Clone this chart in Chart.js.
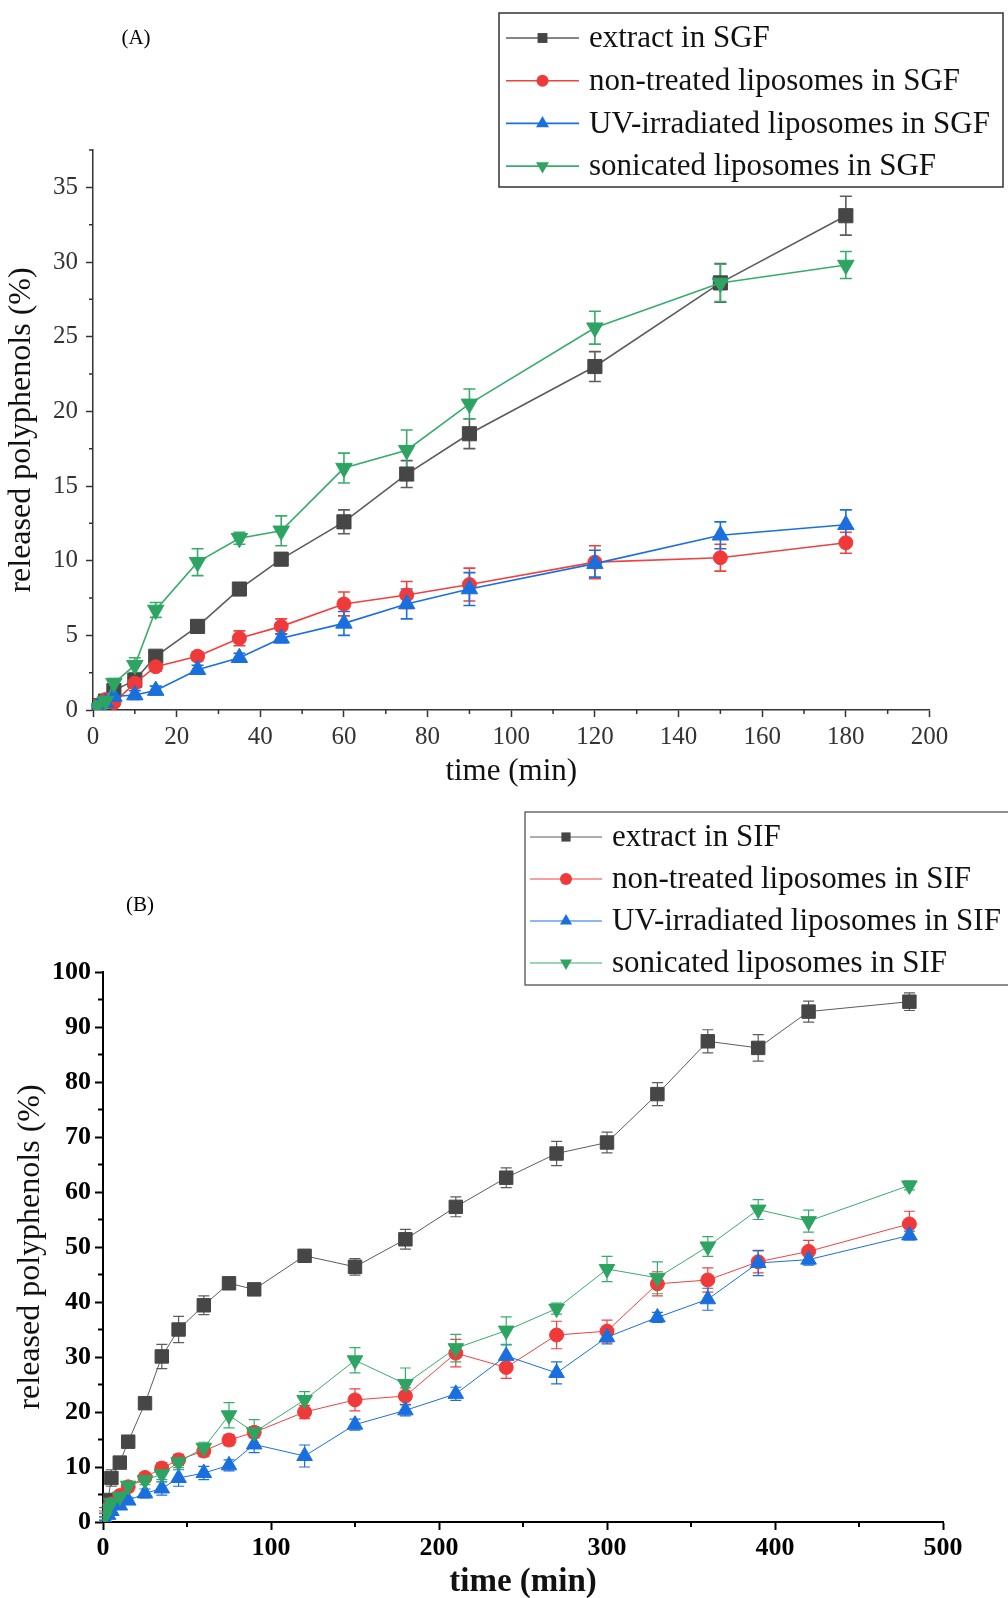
<!DOCTYPE html>
<html>
<head>
<meta charset="utf-8">
<title>released polyphenols</title>
<script src="https://cdn.jsdelivr.net/npm/chart.js@4/dist/chart.umd.min.js"></script>
<style>
  body { margin: 0; background: #fff; width: 1008px; height: 1598px; overflow: hidden; position: relative; }
  .panel { position: absolute; left: 0; width: 1008px; height: 800px; }
  #panelA { top: 0; }
  #panelB { top: 800px; }
  .tag { position: absolute; font-family: "Liberation Serif", serif; font-size: 21px; color: #000; transform: translate(-50%, -50%); }
</style>
</head>
<body>
<div class="panel" id="panelA"><canvas id="chartA" width="1008" height="800"></canvas></div>
<div class="panel" id="panelB"><canvas id="chartB" width="1008" height="800"></canvas></div>
<div class="tag" style="left:136px; top:37px;">(A)</div>
<div class="tag" style="left:140px; top:904px;">(B)</div>
<script>
// ======= 資料：SGF (A) =======
const timeSGF = [1, 3, 5, 10, 15, 25, 35, 45, 60, 75, 90, 120, 150, 180];
const extractSGF = [0.3, 0.6, 1.3, 2.0, 3.6, 5.6, 8.1, 10.1, 12.6, 15.8, 18.5, 23.0, 28.6, 33.1];
const extractSGFErr = [0.1, 0.2, 0.3, 0.3, 0.3, 0.3, 0.3, 0.4, 0.8, 0.9, 1.0, 1.0, 1.3, 1.3];
const nonTreatedSGF = [0.3, 0.7, 0.5, 1.8, 2.9, 3.6, 4.8, 5.6, 7.1, 7.7, 8.4, 9.9, 10.2, 11.2];
const nonTreatedSGFErr = [0.1, 0.2, 0.2, 0.3, 0.3, 0.3, 0.5, 0.5, 0.8, 0.9, 1.1, 1.1, 0.9, 0.7];
const uvSGF = [0.2, 0.5, 0.9, 1.0, 1.3, 2.7, 3.5, 4.8, 5.8, 7.1, 8.1, 9.8, 11.7, 12.4];
const uvSGFErr = [0.1, 0.2, 0.2, 0.3, 0.3, 0.3, 0.3, 0.3, 0.8, 1.0, 1.1, 0.9, 0.9, 1.0];
const sonicatedSGF = [0.3, 0.6, 1.8, 3.0, 6.7, 9.9, 11.5, 12.0, 16.2, 17.4, 20.5, 25.6, 28.6, 29.8];
const sonicatedSGFErr = [0.1, 0.2, 0.3, 0.5, 0.5, 0.9, 0.4, 1.0, 1.0, 1.35, 1.0, 1.1, 1.25, 0.9];

// ======= 資料：SIF (B) =======
const timeSIF = [1, 3, 5, 10, 15, 25, 35, 45, 60, 75, 90, 120, 150, 180, 210, 240, 270, 300, 330, 360, 390, 420, 480];
const extractSIF = [2.1, 4.0, 8.0, 10.8, 14.6, 21.6, 30.1, 35.0, 39.4, 43.4, 42.3, 48.4, 46.4, 51.4, 57.3, 62.6, 67.0, 69.0, 77.8, 87.4, 86.2, 92.8, 94.6];
const extractSIFErr = [0.5, 1.0, 1.5, 1.0, 1.0, 1.0, 2.2, 2.4, 1.7, 0.8, 0.5, 0.8, 1.5, 1.8, 1.8, 1.8, 2.2, 1.9, 2.1, 2.1, 2.4, 1.9, 1.6];
const nonTreatedSIF = [1.5, 2.5, 3.3, 4.8, 6.4, 8.1, 9.8, 11.3, 12.9, 14.9, 16.3, 20.0, 22.2, 22.9, 30.7, 28.1, 34.0, 34.7, 43.3, 44.0, 47.3, 49.2, 54.2];
const nonTreatedSIFErr = [0.5, 0.7, 0.8, 0.8, 0.8, 0.8, 1.0, 1.0, 1.0, 1.0, 1.0, 1.2, 2.0, 1.5, 2.5, 2.0, 2.5, 2.0, 2.2, 2.2, 2.0, 2.0, 2.3];
const uvSIF = [0.6, 1.3, 2.0, 3.0, 3.9, 5.2, 6.1, 8.0, 8.9, 10.3, 14.1, 12.0, 17.7, 20.3, 23.3, 30.2, 27.1, 33.6, 37.2, 40.5, 47.1, 47.7, 52.1];
const uvSIFErr = [0.3, 0.5, 0.6, 0.6, 0.6, 0.8, 1.2, 1.5, 1.2, 1.0, 1.5, 2.0, 1.0, 1.0, 1.2, 2.0, 2.0, 1.2, 0.9, 2.0, 2.3, 1.0, 0.8];
const sonicatedSIF = [1.0, 2.5, 3.5, 4.6, 6.6, 7.6, 8.7, 10.9, 13.5, 19.4, 16.3, 22.2, 29.4, 25.1, 31.6, 34.8, 38.8, 46.0, 44.4, 50.1, 56.8, 54.7, 61.2];
const sonicatedSIFErr = [0.5, 0.6, 0.7, 0.8, 0.8, 0.8, 1.0, 1.0, 1.0, 2.3, 2.3, 1.5, 2.3, 2.9, 2.5, 2.5, 1.0, 2.3, 2.9, 1.8, 1.8, 2.0, 0.8];

// 圖例文字
const labelsSGF = ["extract in SGF", "non-treated liposomes in SGF", "UV-irradiated liposomes in SGF", "sonicated liposomes in SGF"];
const labelsSIF = ["extract in SIF", "non-treated liposomes in SIF", "UV-irradiated liposomes in SIF", "sonicated liposomes in SIF"];

// 座標軸範圍與刻度
const axisSGF = { xMax: 200, xStep: 20, xMinor: 10, yMax: 37.5, yStep: 5, yMinor: 2.5 };
const axisSIF = { xMax: 500, xStep: 100, xMinor: 50, yMax: 100, yStep: 10, yMinor: 5 };

const SERIF = '"Liberation Serif", "Times New Roman", serif';

// 四條曲線的樣式（黑、紅、藍、綠）
const seriesStyles = [
    { line: "#5c5c5c", fill: "#464646", shape: "rect", rotation: 0, order: 3 },
    { line: "#f14040", fill: "#f03a3a", shape: "circle", rotation: 0, order: 2 },
    { line: "#1a6fdf", fill: "#1a6fdf", shape: "triangle", rotation: 0, order: 1 },
    { line: "#37ad6b", fill: "#2ea463", shape: "triangle", rotation: 180, order: 0 }
];

function makeDataset(label, xs, ys, errs, style, radius, width) {
    return {
        label: label,
        data: xs.map((x, i) => ({ x: x, y: ys[i] })),
        errorBars: errs,
        borderColor: style.line,
        backgroundColor: style.fill,
        pointBackgroundColor: style.fill,
        pointBorderColor: style.fill,
        pointBorderWidth: 1,
        pointStyle: style.shape,
        pointRotation: style.rotation,
        pointRadius: radius,
        pointHoverRadius: radius,
        borderWidth: width,
        order: style.order,
        tension: 0,
        fill: false
    };
}

// ======= 誤差線 =======
const errorBarPlugin = {
    id: "errorBars",
    beforeDatasetsDraw(chart, args, opts) {
        const ctx = chart.ctx;
        const yScale = chart.scales.y;
        chart.data.datasets.forEach((ds, i) => {
            if (!ds.errorBars) return;
            const meta = chart.getDatasetMeta(i);
            ctx.save();
            ctx.strokeStyle = ds.borderColor;
            ctx.lineWidth = opts.width;
            meta.data.forEach((pt, j) => {
                const v = ds.data[j].y;
                const e = ds.errorBars[j];
                const top = yScale.getPixelForValue(v + e);
                const bot = yScale.getPixelForValue(v - e);
                ctx.beginPath();
                ctx.moveTo(pt.x, top);
                ctx.lineTo(pt.x, bot);
                ctx.moveTo(pt.x - opts.cap, top);
                ctx.lineTo(pt.x + opts.cap, top);
                ctx.moveTo(pt.x - opts.cap, bot);
                ctx.lineTo(pt.x + opts.cap, bot);
                ctx.stroke();
            });
            ctx.restore();
        });
    }
};

// ======= 次刻度 =======
const minorTickPlugin = {
    id: "minorTicks",
    afterDraw(chart, args, opts) {
        const ctx = chart.ctx;
        const { x, y } = chart.scales;
        const area = chart.chartArea;
        ctx.save();
        ctx.strokeStyle = opts.color;
        ctx.lineWidth = opts.width;
        ctx.beginPath();
        for (let v = opts.xMinor; v < x.max; v += opts.xMinor * 2) {
            const px = x.getPixelForValue(v);
            ctx.moveTo(px, area.bottom);
            ctx.lineTo(px, area.bottom + opts.length);
        }
        for (let v = opts.yMinor; v < y.max + 0.001; v += opts.yMinor * 2) {
            const py = y.getPixelForValue(v);
            ctx.moveTo(area.left, py);
            ctx.lineTo(area.left - opts.length, py);
        }
        ctx.stroke();
        ctx.restore();
    }
};

// 自訂圖例標記（沒有 helpers 時的備用畫法）
function drawMarker(ctx, shape, rotation, r, cx, cy) {
    if (Chart.helpers && Chart.helpers.drawPoint) {
        Chart.helpers.drawPoint(ctx, { pointStyle: shape, rotation: rotation, radius: r, borderWidth: 0 }, cx, cy);
        return;
    }
    ctx.beginPath();
    if (shape === "rect") {
        const s = r * Math.SQRT1_2;
        ctx.rect(cx - s, cy - s, 2 * s, 2 * s);
    } else if (shape === "circle") {
        ctx.arc(cx, cy, r, 0, Math.PI * 2);
    } else {
        const dir = rotation === 180 ? -1 : 1;
        ctx.moveTo(cx, cy - dir * r);
        ctx.lineTo(cx + r * 0.866, cy + dir * r / 2);
        ctx.lineTo(cx - r * 0.866, cy + dir * r / 2);
        ctx.closePath();
    }
    ctx.fill();
}

// ======= 方框圖例 =======
const boxLegendPlugin = {
    id: "boxLegend",
    afterDraw(chart, args, opts) {
        const ctx = chart.ctx;
        ctx.save();
        ctx.strokeStyle = opts.borderColor;
        ctx.lineWidth = opts.borderWidth;
        ctx.strokeRect(opts.left, opts.top, opts.width, opts.height);
        chart.data.datasets.forEach((ds, i) => {
            const y = opts.firstRow + i * opts.rowGap;
            ctx.strokeStyle = ds.borderColor;
            ctx.lineWidth = ds.borderWidth;
            ctx.beginPath();
            ctx.moveTo(opts.lineStart, y);
            ctx.lineTo(opts.lineEnd, y);
            ctx.stroke();
            ctx.fillStyle = ds.pointBackgroundColor;
            drawMarker(ctx, ds.pointStyle, ds.pointRotation, opts.markerRadius[i], (opts.lineStart + opts.lineEnd) / 2, y);
            ctx.fillStyle = opts.textColor;
            ctx.font = opts.font;
            ctx.textBaseline = "middle";
            ctx.textAlign = "left";
            ctx.fillText(ds.label, opts.textX, y + 1);
        });
        ctx.restore();
    }
};

function buildChart(canvasId, cfg) {
    const styles = seriesStyles;
    const datasets = cfg.series.map((s, i) =>
        makeDataset(cfg.labels[i], cfg.time, s[0], s[1], styles[i], cfg.radius[i], cfg.lineWidth)
    );

    return new Chart(document.getElementById(canvasId).getContext("2d"), {
        type: "line",
        data: { datasets: datasets },
        plugins: [errorBarPlugin, minorTickPlugin, boxLegendPlugin],
        options: {
            responsive: false,
            animation: false,
            events: [],
            layout: { padding: cfg.padding },
            plugins: {
                legend: { display: false },
                tooltip: { enabled: false },
                errorBars: { width: cfg.errWidth, cap: cfg.cap },
                minorTicks: {
                    xMinor: cfg.axis.xMinor, yMinor: cfg.axis.yMinor,
                    length: cfg.minorLen, color: cfg.axisColor, width: cfg.axisWidth
                },
                boxLegend: cfg.legend
            },
            scales: {
                x: {
                    type: "linear",
                    min: 0,
                    max: cfg.axis.xMax,
                    ticks: {
                        stepSize: cfg.axis.xStep,
                        autoSkip: false,
                        maxRotation: 0,
                        includeBounds: false,
                        color: cfg.tickColor,
                        padding: cfg.xTickPad,
                        font: { family: SERIF, size: cfg.tickSize, weight: cfg.tickWeight }
                    },
                    grid: {
                        drawOnChartArea: false,
                        drawTicks: true,
                        tickLength: cfg.majorLen,
                        tickColor: cfg.axisColor,
                        tickWidth: cfg.axisWidth
                    },
                    border: { display: true, color: cfg.axisColor, width: cfg.axisWidth },
                    title: {
                        display: true,
                        text: "time (min)",
                        color: "#111",
                        font: { family: SERIF, size: cfg.xTitleSize, weight: cfg.xTitleWeight, lineHeight: 1 },
                        padding: { top: 0, bottom: cfg.xTitlePad }
                    },
                    afterFit: s => { s.height = cfg.xHeight; }
                },
                y: {
                    type: "linear",
                    min: 0,
                    max: cfg.axis.yMax,
                    ticks: {
                        stepSize: cfg.axis.yStep,
                        includeBounds: false,
                        color: cfg.tickColor,
                        padding: cfg.yTickPad,
                        font: { family: SERIF, size: cfg.tickSize, weight: cfg.tickWeight }
                    },
                    grid: {
                        drawOnChartArea: false,
                        drawTicks: true,
                        tickLength: cfg.majorLen,
                        tickColor: cfg.axisColor,
                        tickWidth: cfg.axisWidth
                    },
                    border: { display: true, color: cfg.axisColor, width: cfg.axisWidth },
                    title: {
                        display: true,
                        text: "released polyphenols (%)",
                        color: "#111",
                        font: { family: SERIF, size: cfg.yTitleSize, lineHeight: 1 },
                        padding: { top: cfg.yTitlePad, bottom: 0 }
                    },
                    afterFit: s => { s.width = cfg.yWidth; }
                }
            }
        }
    });
}

// ======= (A) 模擬胃液 =======
buildChart("chartA", {
    time: timeSGF,
    labels: labelsSGF,
    series: [
        [extractSGF, extractSGFErr],
        [nonTreatedSGF, nonTreatedSGFErr],
        [uvSGF, uvSGFErr],
        [sonicatedSGF, sonicatedSGFErr]
    ],
    axis: axisSGF,
    radius: [10, 7, 9.5, 9.5],
    lineWidth: 1.6,
    errWidth: 1.6,
    cap: 6,
    padding: { top: 150, right: 78.5, left: 0, bottom: 0 },
    xHeight: 90,
    yWidth: 93,
    axisColor: "#333",
    axisWidth: 1.5,
    majorLen: 7,
    minorLen: 4,
    tickColor: "#333",
    tickSize: 25,
    tickWeight: "normal",
    xTickPad: 5,
    yTickPad: 8,
    xTitleSize: 31,
    xTitleWeight: "normal",
    xTitlePad: 13,
    yTitleSize: 32,
    yTitlePad: 6,
    legend: {
        left: 499, top: 13, width: 504, height: 174,
        borderColor: "#333", borderWidth: 1.5,
        firstRow: 38, rowGap: 42.7,
        lineStart: 506, lineEnd: 579, textX: 589,
        markerRadius: [7, 6, 7.5, 7.5],
        font: "31px " + SERIF, textColor: "#111"
    }
});

// ======= (B) 模擬腸液 =======
buildChart("chartB", {
    time: timeSIF,
    labels: labelsSIF,
    series: [
        [extractSIF, extractSIFErr],
        [nonTreatedSIF, nonTreatedSIFErr],
        [uvSIF, uvSIFErr],
        [sonicatedSIF, sonicatedSIFErr]
    ],
    axis: axisSIF,
    radius: [9.5, 7, 9, 9],
    lineWidth: 1,
    errWidth: 1.2,
    cap: 5.5,
    padding: { top: 172, right: 65, left: 0, bottom: 0 },
    xHeight: 78,
    yWidth: 103,
    axisColor: "#000",
    axisWidth: 2,
    majorLen: 8,
    minorLen: 5,
    tickColor: "#000",
    tickSize: 26,
    tickWeight: "bold",
    xTickPad: 3,
    yTickPad: 4,
    xTitleSize: 33,
    xTitleWeight: "bold",
    xTitlePad: 1,
    yTitleSize: 32,
    yTitlePad: 15,
    legend: {
        left: 525, top: 12, width: 490, height: 173,
        borderColor: "#444", borderWidth: 1.2,
        firstRow: 37, rowGap: 42,
        lineStart: 530, lineEnd: 602, textX: 612,
        markerRadius: [6.5, 6, 7, 7],
        font: "31px " + SERIF, textColor: "#111"
    }
});
</script>
</body>
</html>
